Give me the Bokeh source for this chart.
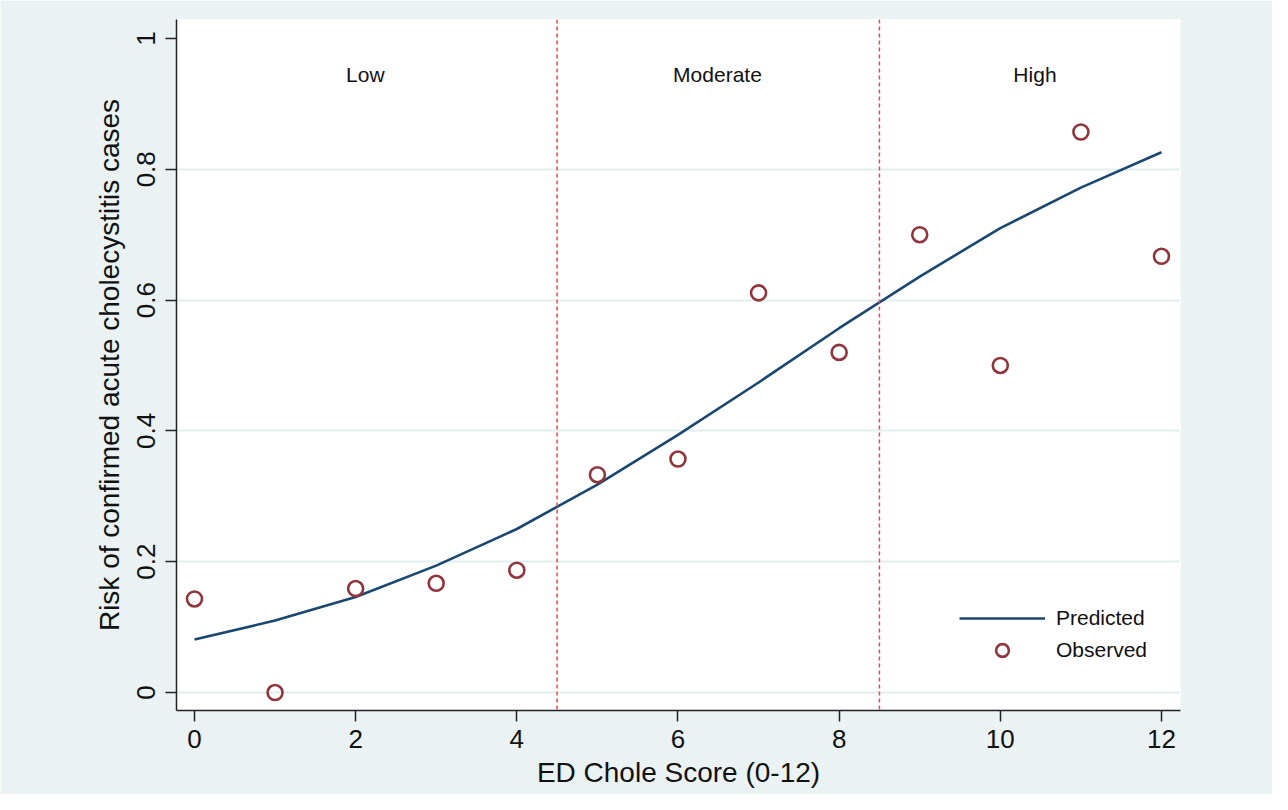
from bokeh.plotting import figure
from bokeh.models import FixedTicker, Range1d, Legend, LegendItem, Span, Label
from bokeh.embed import file_html
from bokeh.resources import INLINE

# ---- data ----
scores = [0, 1, 2, 3, 4, 5, 6, 7, 8, 9, 10, 11, 12]
predicted = [0.081, 0.110, 0.146, 0.194, 0.250, 0.318, 0.394, 0.474, 0.557, 0.636, 0.710, 0.772, 0.826]
observed = [0.143, 0.0, 0.159, 0.167, 0.187, 0.333, 0.357, 0.611, 0.520, 0.700, 0.500, 0.857, 0.667]
cutoffs = [4.5, 8.5]
band_names = ["Low", "Moderate", "High"]
band_x = [2.12, 6.49, 10.43]
band_y = 0.945
x_ticks = [0, 2, 4, 6, 8, 10, 12]
y_ticks = [0, 0.2, 0.4, 0.6, 0.8, 1]
y_tick_labels = ["0", "0.2", "0.4", "0.6", "0.8", "1"]
grid_ticks = [0, 0.2, 0.4, 0.6, 0.8]

FONT = "Liberation Sans"
BG = "#eaf2f3"
NAVY = "#1a476f"
MAROON = "#90353b"

p = figure(width=1272, height=794, output_backend="svg", toolbar_location=None,
           x_range=Range1d(-0.223, 12.236), y_range=Range1d(-0.0275, 1.029),
           min_border_left=176, min_border_right=92, min_border_top=19, min_border_bottom=84)
p.background_fill_color = "white"
p.border_fill_color = BG
p.outline_line_color = None

# axes
for ax in (p.xaxis[0], p.yaxis[0]):
    ax.axis_line_color = "#222222"
    ax.axis_line_width = 1.5
    ax.major_tick_line_color = "#222222"
    ax.major_tick_line_width = 1.5
    ax.major_tick_in = 0
    ax.major_tick_out = 11
    ax.minor_tick_line_color = None
    ax.major_label_text_font = FONT
    ax.major_label_text_font_size = "26px"
    ax.major_label_text_color = "#111111"
    ax.axis_label_text_font = FONT
    ax.axis_label_text_font_size = "28px"
    ax.axis_label_text_font_style = "normal"
    ax.axis_label_text_color = "#111111"

p.xaxis.ticker = FixedTicker(ticks=x_ticks)
p.yaxis.ticker = FixedTicker(ticks=y_ticks)
p.yaxis.major_label_overrides = {t: l for t, l in zip(y_ticks, y_tick_labels)}
p.yaxis.major_label_orientation = "vertical"
p.xaxis.axis_label = "ED Chole Score (0-12)"
p.yaxis.axis_label = "Risk of confirmed acute cholecystitis cases"
p.xaxis.major_label_standoff = 8
p.xaxis.axis_label_standoff = 6
p.yaxis.major_label_standoff = 10
p.yaxis.axis_label_standoff = 10

p.xgrid.grid_line_color = None
p.ygrid.ticker = FixedTicker(ticks=grid_ticks)
p.ygrid.grid_line_color = "#e3eef0"
p.ygrid.grid_line_width = 2

# cutoff lines
for c in cutoffs:
    p.add_layout(Span(location=c, dimension="height", line_color="#f2474c",
                      line_dash="4 3", line_width=1.5))

# band labels
for name, bx in zip(band_names, band_x):
    p.add_layout(Label(x=bx, y=band_y, text=name, text_font=FONT, text_font_size="21px",
                       text_color="#111111", text_align="center", text_baseline="middle"))

r_line = p.line(scores, predicted, line_color=NAVY, line_width=2.6)
r_obs = p.scatter(scores, observed, marker="circle", size=15, fill_color=None,
                  line_color=MAROON, line_width=2.6)

legend = Legend(items=[LegendItem(label="Predicted", renderers=[r_line]),
                       LegendItem(label="Observed", renderers=[r_obs])],
                location=(783, 44), orientation="vertical",
                glyph_width=86, glyph_height=32, label_height=32, spacing=0,
                padding=0, margin=0, label_standoff=11,
                label_text_font=FONT, label_text_font_size="21px", label_text_color="#111111",
                border_line_color=None, background_fill_alpha=0)
p.add_layout(legend)

open("out.html", "w").write(file_html(p, INLINE))
